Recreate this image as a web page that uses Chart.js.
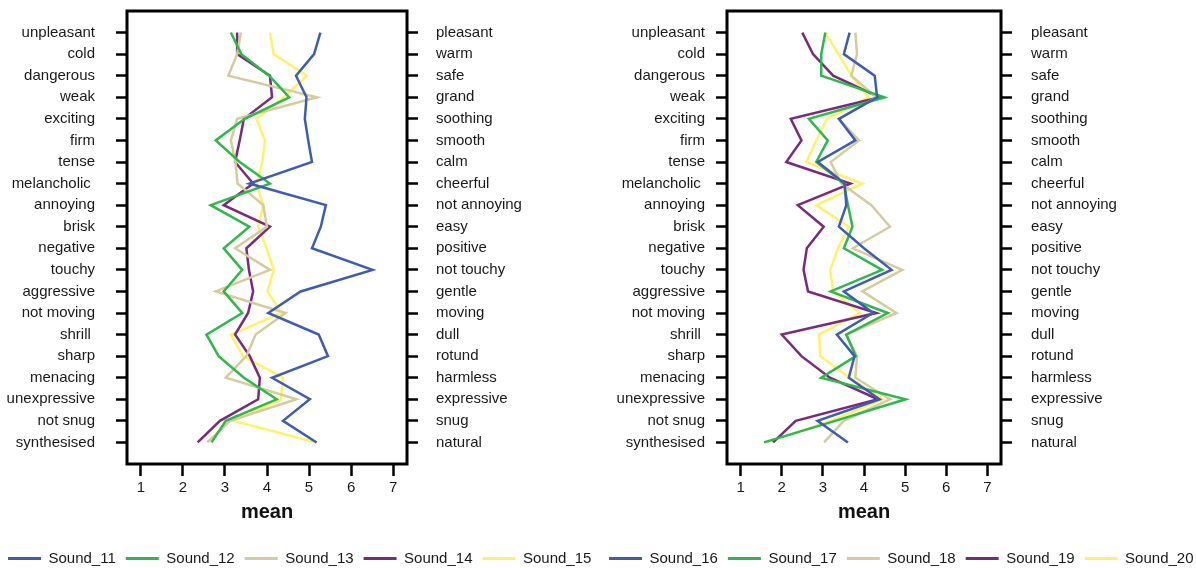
<!DOCTYPE html>
<html>
<head>
<meta charset="utf-8">
<script src="https://cdn.jsdelivr.net/npm/chart.js@4.4.1/dist/chart.umd.min.js"></script>
<style>
  html, body { margin: 0; padding: 0; background: #fff; overflow: hidden; width: 1196px; height: 568px; }
  canvas { position: absolute; top: 0; }
</style>
</head>
<body>
<canvas id="leftChart" width="620" height="576" style="left:-2px"></canvas>
<canvas id="rightChart" width="620" height="576" style="left:599px"></canvas>
<script>
// adjective pairs, top to bottom
const negativeTerms = ['unpleasant', 'cold', 'dangerous', 'weak', 'exciting', 'firm', 'tense', 'melancholic ',
    'annoying', 'brisk', 'negative', 'touchy', 'aggressive', 'not moving', 'shrill ', 'sharp', 'menacing',
    'unexpressive', 'not snug', 'synthesised'];
const positiveTerms = ['pleasant', 'warm', 'safe', 'grand', 'soothing', 'smooth', 'calm', 'cheerful',
    'not annoying', 'easy', 'positive', 'not touchy', 'gentle', 'moving', 'dull', 'rotund', 'harmless',
    'expressive', 'snug', 'natural'];
const meanTicks = [1, 2, 3, 4, 5, 6, 7];

// left panel
const sound11 = [5.27, 5.12, 4.69, 4.94, 4.90, 4.98, 5.07, 3.58, 5.40, 5.28, 5.07, 6.51, 4.80, 4.03, 5.23, 5.45, 4.12, 5.02, 4.38, 5.18];
const sound12 = [3.14, 3.39, 4.05, 4.53, 3.47, 2.78, 3.35, 4.07, 2.66, 3.58, 2.97, 3.41, 2.97, 3.41, 2.56, 2.85, 3.45, 4.23, 3.02, 2.68];
const sound13 = [3.38, 3.29, 3.08, 5.19, 3.29, 3.14, 3.25, 3.30, 3.91, 4.00, 3.24, 4.07, 2.78, 4.44, 3.73, 3.51, 3.02, 4.70, 3.12, 2.58];
const sound14 = [3.29, 3.29, 4.07, 4.12, 3.45, 3.35, 3.24, 3.67, 2.97, 4.07, 3.51, 3.57, 3.67, 3.55, 3.24, 3.59, 3.83, 3.79, 2.88, 2.35];
const sound15 = [4.07, 4.16, 4.95, 4.40, 3.75, 3.95, 3.89, 3.75, 3.91, 3.79, 3.99, 4.16, 4.01, 4.35, 3.14, 3.43, 4.38, 4.33, 3.20, 5.18];

// right panel
const sound16 = [3.65, 3.51, 4.26, 4.32, 3.39, 3.79, 2.88, 3.53, 3.57, 3.39, 4.00, 4.67, 3.51, 4.22, 3.34, 3.77, 3.63, 4.38, 2.87, 3.61];
const sound17 = [3.06, 2.96, 2.96, 4.50, 2.66, 3.12, 2.84, 3.51, 3.61, 3.72, 3.51, 4.44, 3.19, 4.58, 3.57, 3.80, 2.96, 5.01, 3.30, 1.57];
const sound18 = [3.79, 3.83, 3.69, 4.30, 3.39, 3.88, 3.19, 3.45, 4.18, 4.63, 3.73, 4.93, 3.96, 4.79, 3.57, 3.83, 3.79, 4.63, 3.51, 3.03];
const sound19 = [2.50, 2.76, 3.25, 4.38, 2.22, 2.48, 2.11, 3.67, 2.39, 3.02, 2.61, 2.53, 2.64, 4.30, 2.00, 2.48, 3.17, 4.34, 2.34, 1.79];
const sound20 = [3.06, 3.38, 3.70, 4.10, 3.10, 2.84, 2.60, 3.96, 2.84, 3.63, 3.37, 3.18, 3.25, 3.90, 2.90, 2.94, 3.65, 4.46, 3.20, 1.63];

const lineColors = ['#3f5cb3', '#2eb84c', '#d5cc9c', '#7a2a7c', '#fff26a'];
const textColor = '#1a1a1a';

Chart.defaults.font.family = "'Liberation Sans', Arial, sans-serif";

// black frame round the plot area
const frame = {
    id: 'frame',
    afterDatasetsDraw(chart) {
        const a = chart.chartArea;
        const c = chart.ctx;
        c.save();
        c.lineWidth = 3;
        c.strokeStyle = '#000';
        c.strokeRect(a.left, a.top, a.right - a.left, a.bottom - a.top);
        c.restore();
    }
};

// no extra room for half labels at the ends of an axis
function noEndPadding(axis) {
    axis.paddingTop = 0;
    axis.paddingBottom = 0;
    axis.paddingLeft = 0;
    axis.paddingRight = 0;
}

function termAxis(position, terms, width, padding) {
    return {
        type: 'linear',
        position: position,
        min: 0,
        max: 21,
        reverse: true,
        afterBuildTicks: axis => { axis.ticks = terms.map((t, i) => ({ value: i + 1 })); },
        afterFit: axis => { axis.width = width; noEndPadding(axis); },
        ticks: { autoSkip: false, padding: padding, color: textColor, font: { size: 15 }, callback: v => terms[v - 1] },
        grid: { drawOnChartArea: false, tickLength: 11, tickWidth: 2.5, tickColor: '#000' },
        border: { display: false }
    };
}

function profileChart(canvasId, names, series, dims) {
    const ctx = document.getElementById(canvasId).getContext('2d');
    return new Chart(ctx, {
        type: 'scatter',
        data: {
            datasets: names.map((name, k) => ({
                label: name,
                data: series[k].map((v, i) => ({ x: v, y: i + 1 })),
                showLine: true,
                borderColor: lineColors[k],
                backgroundColor: lineColors[k],
                borderWidth: 2.5,
                pointRadius: 0,
                pointHoverRadius: 0
            }))
        },
        options: {
            responsive: false,
            animation: false,
            events: [],
            layout: { padding: { top: 11, left: 0, right: 0, bottom: 0 } },
            scales: {
                x: {
                    type: 'linear',
                    min: 0.67,
                    max: 7.33,
                    afterBuildTicks: axis => { axis.ticks = meanTicks.map(v => ({ value: v })); },
                    afterFit: axis => { axis.height = 77; noEndPadding(axis); },
                    ticks: { padding: 3, color: textColor, font: { size: 15 } },
                    grid: { drawOnChartArea: false, tickLength: 12, tickWidth: 2.5, tickColor: '#000' },
                    border: { display: false },
                    title: { display: true, text: 'mean', color: '#111', font: { size: 20, weight: 'bold' }, padding: { top: 0, bottom: 17 } }
                },
                y: termAxis('left', negativeTerms, dims.left, dims.padLeft),
                yRight: termAxis('right', positiveTerms, dims.right, dims.padRight)
            },
            plugins: {
                tooltip: { enabled: false },
                legend: {
                    position: 'bottom',
                    align: 'start',
                    labels: {
                        boxWidth: 33,
                        boxHeight: 3,
                        padding: 10,
                        color: textColor,
                        font: { size: 15 },
                        generateLabels: chart => Chart.defaults.plugins.legend.labels.generateLabels(chart)
                            .map(item => Object.assign(item, { lineWidth: 0 }))
                    }
                }
            }
        },
        plugins: [frame]
    });
}

profileChart('leftChart', ['Sound_11', 'Sound_12', 'Sound_13', 'Sound_14', 'Sound_15'],
    [sound11, sound12, sound13, sound14, sound15], { left: 129, right: 211, padLeft: 21, padRight: 18 });
profileChart('rightChart', ['Sound_16', 'Sound_17', 'Sound_18', 'Sound_19', 'Sound_20'],
    [sound16, sound17, sound18, sound19, sound20], { left: 128, right: 218, padLeft: 11, padRight: 19 });
</script>
</body>
</html>
